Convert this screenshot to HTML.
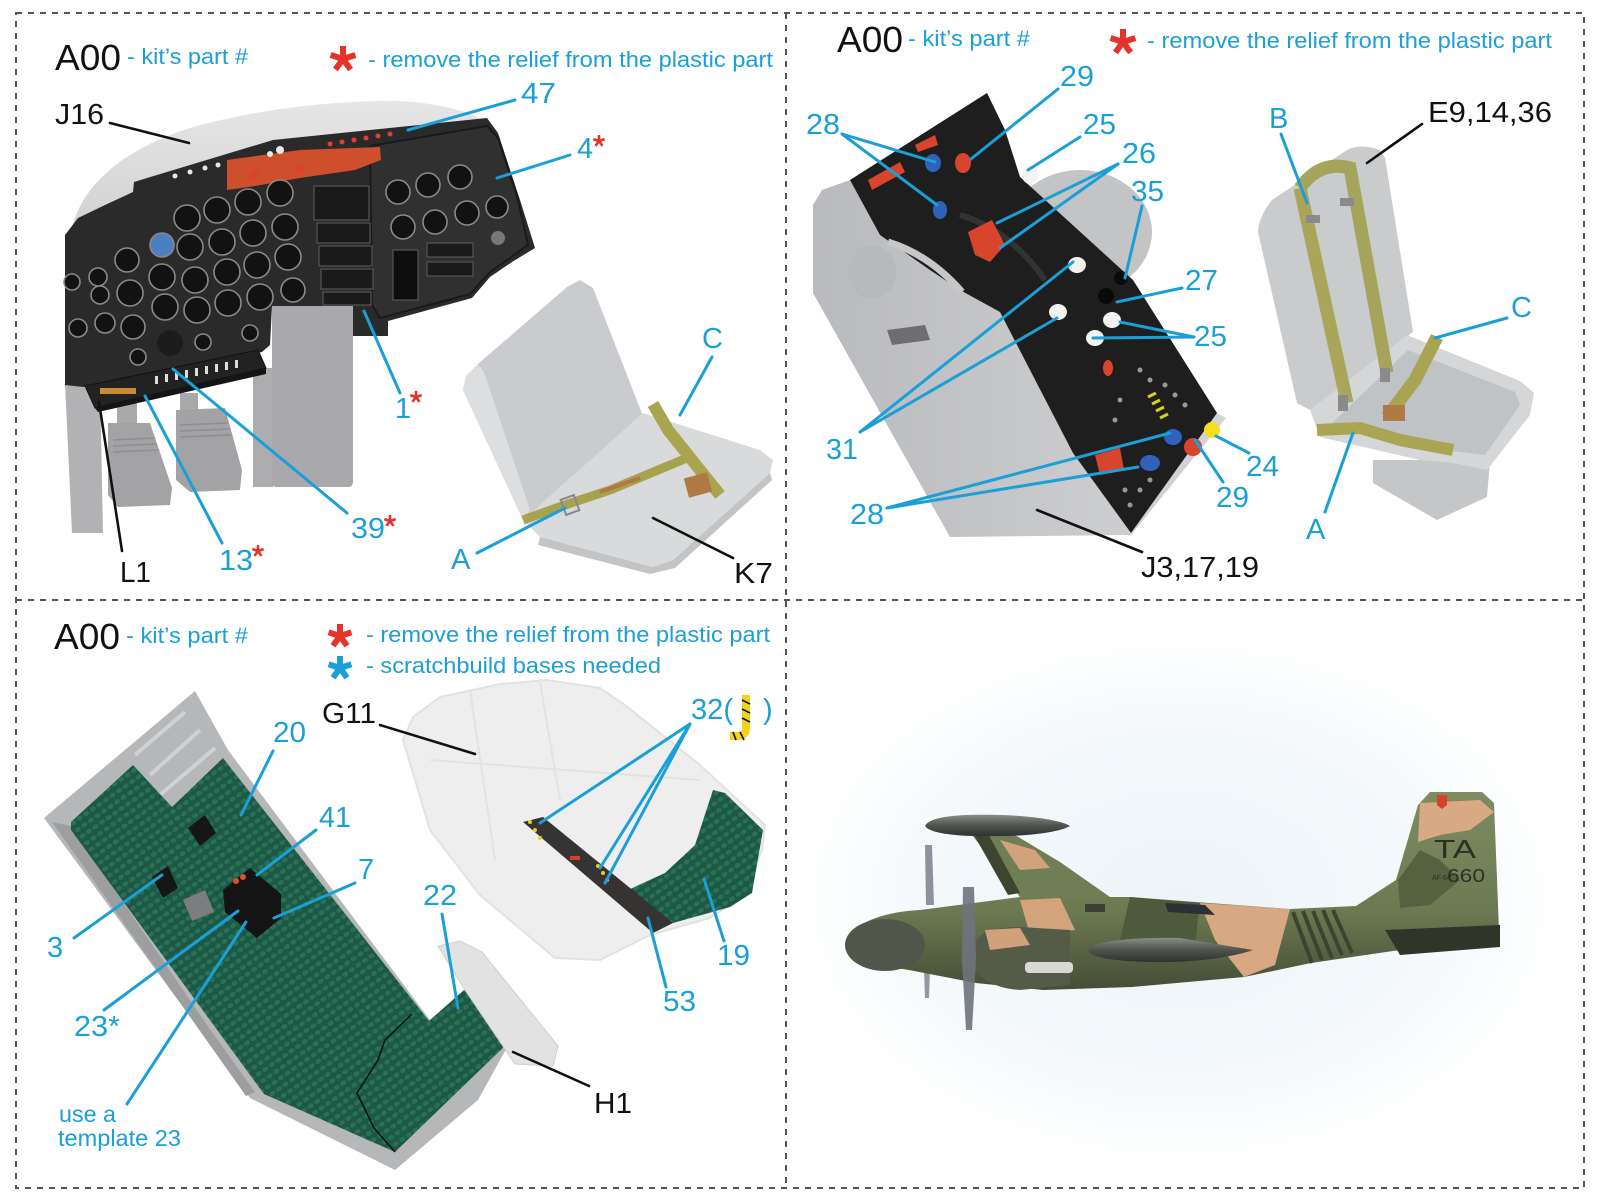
<!DOCTYPE html>
<html><head><meta charset="utf-8"><style>
html,body{margin:0;padding:0;background:#fff;}
svg{display:block;}
text{font-family:"Liberation Sans",Arial,sans-serif;}
.b{fill:#1a9fd6;}
.k{fill:#111;}
.lb{stroke:#1a9fd6;stroke-width:3;fill:none;stroke-linecap:round;}
.lk{stroke:#111;stroke-width:2.6;fill:none;stroke-linecap:round;}
.g{fill:#121212;stroke:#8a8a8a;stroke-width:1.6;}
</style></head><body>
<svg width="1600" height="1200" viewBox="0 0 1600 1200" xmlns="http://www.w3.org/2000/svg">
<defs>
<pattern id="weave" width="8" height="8" patternUnits="userSpaceOnUse" patternTransform="rotate(-35)">
<rect width="8" height="8" fill="#1d5843"/><ellipse cx="4" cy="4" rx="3.2" ry="2.3" fill="#28705a"/></pattern>
<radialGradient id="sky" cx="50%" cy="50%" r="50%"><stop offset="0" stop-color="#edf4f8"/><stop offset="0.6" stop-color="#f3f8fb"/><stop offset="1" stop-color="#ffffff"/></radialGradient>
<linearGradient id="shroud" x1="0" y1="0" x2="0" y2="1"><stop offset="0" stop-color="#e6e6e6"/><stop offset="1" stop-color="#cfcfcf"/></linearGradient>
<linearGradient id="body" x1="0" y1="0" x2="1" y2="0"><stop offset="0" stop-color="#b9babd"/><stop offset="1" stop-color="#d3d4d6"/></linearGradient>
<linearGradient id="tank" x1="0" y1="0" x2="0" y2="1"><stop offset="0" stop-color="#8a8d88"/><stop offset="0.5" stop-color="#4f524d"/><stop offset="1" stop-color="#2f322e"/></linearGradient>
<linearGradient id="fus" x1="0" y1="0" x2="0" y2="1"><stop offset="0" stop-color="#7e8c62"/><stop offset="0.6" stop-color="#6c7a52"/><stop offset="1" stop-color="#454d36"/></linearGradient>
</defs>
<rect width="1600" height="1200" fill="#fff"/>

<!-- Q4 sky -->
<ellipse cx="1180" cy="900" rx="390" ry="270" fill="url(#sky)"/>

<!-- dashed frame -->
<g stroke="#555" stroke-width="2" fill="none" stroke-dasharray="6 6">
<rect x="16" y="13" width="1568" height="1175"/>
<line x1="786" y1="13" x2="786" y2="1188"/>
<line x1="16" y1="600" x2="1584" y2="600"/>
</g>

<!-- ============ Q1 cockpit ============ -->
<path d="M70,240 C75,190 120,150 190,128 C260,108 340,100 400,101 C440,103 470,112 488,122 L470,140 L150,200 L75,245 Z" fill="url(#shroud)"/>
<polygon points="65,383 100,383 103,533 72,533" fill="#b2b2b4"/>
<rect x="117" y="398" width="20" height="32" fill="#a9a9ab"/>
<polygon points="108,423 150,423 172,488 170,505 118,507 108,495" fill="#a3a3a6"/>
<g stroke="#8f8f92" stroke-width="1.5"><line x1="113" y1="440" x2="155" y2="438"/><line x1="113" y1="446" x2="157" y2="444"/><line x1="113" y1="452" x2="159" y2="450"/></g>
<rect x="180" y="393" width="18" height="26" fill="#a9a9ab"/>
<polygon points="176,410 225,408 242,470 240,490 190,492 176,480" fill="#a3a3a6"/>
<g stroke="#8f8f92" stroke-width="1.5"><line x1="180" y1="425" x2="228" y2="423"/><line x1="180" y1="431" x2="230" y2="429"/><line x1="180" y1="437" x2="232" y2="435"/></g>
<rect x="253" y="368" width="20" height="119" fill="#adadb0"/>
<path d="M272,300 L353,300 L353,482 Q353,487 348,487 L277,487 Q272,487 272,482 Z" fill="#a8a8ad"/>
<polygon points="65,385 65,235 78,218 105,205 133,192 134,182 147,178 273,140 487,118 498,133 520,200 535,248 512,262 490,277 472,298 388,321 388,336 353,336 353,306 272,306 270,345 262,352 93,388" fill="#2a2a2b"/>
<polygon points="370,146 487,126 498,138 518,200 528,245 490,272 470,294 380,318 372,305" fill="#303031" stroke="#1a1a1a" stroke-width="2"/>
<polygon points="227,160 300,150 380,147 381,160 355,170 300,178 255,186 227,190" fill="#cf4f2c"/>
<g fill="#e8e8e8"><circle cx="175" cy="176" r="2.5"/><circle cx="190" cy="172" r="2.5"/><circle cx="205" cy="168" r="2.5"/><circle cx="218" cy="165" r="2.5"/><circle cx="270" cy="154" r="3"/><circle cx="280" cy="150" r="4"/></g>
<g fill="#e04030"><circle cx="330" cy="144" r="2.5"/><circle cx="342" cy="142" r="2.5"/><circle cx="354" cy="140" r="2.5"/><circle cx="366" cy="138" r="2.5"/><circle cx="378" cy="136" r="2.5"/><circle cx="390" cy="134" r="2.5"/><circle cx="255" cy="175" r="4"/><circle cx="300" cy="170" r="4"/></g>
<g>
<circle class="g" cx="187" cy="218" r="13"/><circle class="g" cx="217" cy="210" r="13"/><circle class="g" cx="248" cy="202" r="13"/><circle class="g" cx="280" cy="193" r="13"/>
<circle class="g" cx="190" cy="247" r="13"/><circle class="g" cx="222" cy="242" r="13"/><circle class="g" cx="253" cy="233" r="13"/><circle class="g" cx="285" cy="227" r="13"/>
<circle class="g" cx="195" cy="280" r="13"/><circle class="g" cx="227" cy="272" r="13"/><circle class="g" cx="257" cy="265" r="13"/><circle class="g" cx="288" cy="257" r="13"/>
<circle class="g" cx="162" cy="277" r="13"/><circle class="g" cx="127" cy="260" r="12"/>
<circle cx="162" cy="245" r="12" fill="#4b7fc0" stroke="#888" stroke-width="1.6"/>
<circle class="g" cx="130" cy="293" r="13"/><circle class="g" cx="165" cy="307" r="13"/><circle class="g" cx="197" cy="310" r="13"/><circle class="g" cx="228" cy="303" r="13"/><circle class="g" cx="260" cy="297" r="13"/><circle class="g" cx="293" cy="290" r="12"/>
<circle class="g" cx="72" cy="282" r="8"/><circle class="g" cx="98" cy="277" r="9"/><circle class="g" cx="100" cy="295" r="9"/><circle class="g" cx="78" cy="328" r="9"/><circle class="g" cx="105" cy="323" r="10"/><circle class="g" cx="133" cy="327" r="12"/>
<circle class="g" cx="138" cy="357" r="8"/><circle class="g" cx="203" cy="342" r="8"/><circle class="g" cx="250" cy="333" r="8"/>
<circle cx="170" cy="343" r="13" fill="#1c1c1c"/>
<circle class="g" cx="398" cy="192" r="12"/><circle class="g" cx="428" cy="185" r="12"/><circle class="g" cx="460" cy="177" r="12"/>
<circle class="g" cx="403" cy="227" r="12"/><circle class="g" cx="435" cy="222" r="12"/><circle class="g" cx="467" cy="213" r="12"/><circle class="g" cx="497" cy="207" r="11"/>
<circle cx="498" cy="238" r="7" fill="#777"/>
</g>
<g fill="#1a1a1a" stroke="#555" stroke-width="1.2">
<rect x="314" y="186" width="55" height="34"/><rect x="317" y="223" width="53" height="20"/><rect x="319" y="246" width="53" height="20"/><rect x="321" y="269" width="52" height="20"/><rect x="323" y="292" width="48" height="13"/>
<rect x="393" y="250" width="25" height="50" fill="#0e0e0e"/>
<rect x="427" y="243" width="46" height="14"/><rect x="427" y="262" width="46" height="14"/>
</g>
<polygon points="85,386 258,350 266,368 95,408" fill="#222" stroke="#111" stroke-width="1"/>
<polygon points="95,408 266,368 266,374 98,412" fill="#151515"/>
<g fill="#c98a3a"><rect x="100" y="388" width="36" height="6"/></g>
<g fill="#ddd"><rect x="155" y="376" width="3" height="8"/><rect x="165" y="374" width="3" height="8"/><rect x="175" y="372" width="3" height="8"/><rect x="185" y="370" width="3" height="8"/><rect x="195" y="368" width="3" height="8"/><rect x="205" y="366" width="3" height="8"/><rect x="215" y="364" width="3" height="8"/><rect x="225" y="362" width="3" height="8"/><rect x="235" y="360" width="3" height="8"/></g>

<!-- Q1 seat K7 -->
<polygon points="463,390 466,376 478,364 567,287 580,280 593,288 643,416 523,520" fill="#c9cbce"/>
<polygon points="463,390 466,376 478,364 484,372 530,510 523,520" fill="#dcdedf"/>
<polygon points="523,520 643,413 760,450 773,460 770,473 673,560 653,567 540,537" fill="#d8dadc"/>
<polygon points="540,537 653,567 673,560 770,473 772,480 675,568 650,574 538,545" fill="#c2c4c6"/>
<g stroke-linecap="butt" fill="none">
<path d="M523,520 L565,505 L610,490 L687,458" stroke="#a7a24e" stroke-width="9"/>
<path d="M600,492 L640,478" stroke="#b27745" stroke-width="4"/>
<path d="M653,404 L668,430 L700,470 L720,495" stroke="#aaa450" stroke-width="12"/>
<rect x="686" y="475" width="24" height="20" fill="#b07a45" transform="rotate(-15 698 485)"/>
<rect x="563" y="497" width="14" height="16" fill="none" stroke="#888" stroke-width="2" transform="rotate(-20 570 505)"/>
</g>

<!-- Q1 labels -->
<text x="55" y="70" font-size="36" class="k" textLength="66" lengthAdjust="spacingAndGlyphs">A00</text>
<text x="127" y="64" font-size="22" class="b" textLength="121" lengthAdjust="spacingAndGlyphs">- kit’s part #</text>
<text x="368" y="67" font-size="22" class="b" textLength="405" lengthAdjust="spacingAndGlyphs">- remove the relief from the plastic part</text>
<text x="55" y="124" font-size="29" class="k" textLength="49" lengthAdjust="spacingAndGlyphs">J16</text>
<line class="lk" x1="110" y1="123" x2="189" y2="143"/>
<text x="521" y="103" font-size="29" class="b" textLength="35" lengthAdjust="spacingAndGlyphs">47</text>
<line class="lb" x1="515" y1="100" x2="408" y2="130"/>
<text x="577" y="158" font-size="29" class="b">4</text>
<line class="lb" x1="570" y1="155" x2="497" y2="178"/>
<text x="395" y="418" font-size="29" class="b">1</text>
<line class="lb" x1="400" y1="393" x2="364" y2="311"/>
<text x="351" y="538" font-size="29" class="b" textLength="34" lengthAdjust="spacingAndGlyphs">39</text>
<line class="lb" x1="347" y1="513" x2="173" y2="369"/>
<text x="219" y="570" font-size="29" class="b" textLength="34" lengthAdjust="spacingAndGlyphs">13</text>
<line class="lb" x1="222" y1="543" x2="145" y2="396"/>
<text x="120" y="582" font-size="29" class="k" textLength="31" lengthAdjust="spacingAndGlyphs">L1</text>
<line class="lk" x1="122" y1="551" x2="99" y2="402"/>
<text x="702" y="348" font-size="29" class="b">C</text>
<line class="lb" x1="712" y1="357" x2="680" y2="415"/>
<text x="451" y="569" font-size="29" class="b">A</text>
<line class="lb" x1="477" y1="553" x2="565" y2="508"/>
<text x="734" y="583" font-size="29" class="k" textLength="39" lengthAdjust="spacingAndGlyphs">K7</text>
<line class="lk" x1="733" y1="558" x2="653" y2="518"/>

<!-- ============ Q2 ============ -->
<ellipse cx="1080" cy="232" rx="72" ry="62" fill="#c3c4c6"/>
<polygon points="813,205 822,190 850,180 987,93 1005,130 1020,177 1133,280 1217,413 1226,418 1131,535 950,537 813,293" fill="url(#body)"/>
<ellipse cx="872" cy="272" rx="24" ry="27" fill="#b8b9bc"/>
<polygon points="887,330 925,325 930,340 892,345" fill="#6e6e70"/>
<polygon points="850,180 987,93 1005,130 1020,177 1133,280 1217,413 1131,533 1073,453 1030,370 1000,312 960,290 930,270 880,235" fill="#1e1e1e"/>
<path d="M888,242 Q930,255 962,292" stroke="#c6c7c9" stroke-width="7" fill="none"/>
<path d="M960,215 Q1010,230 1045,280" stroke="#333" stroke-width="6" fill="none"/>
<g fill="#f2f2ee"><ellipse cx="1030" cy="175" rx="8" ry="9"/><ellipse cx="1077" cy="265" rx="9" ry="8"/><ellipse cx="1058" cy="312" rx="9" ry="8"/><ellipse cx="1112" cy="320" rx="9" ry="8"/><ellipse cx="1095" cy="338" rx="9" ry="8"/></g>
<g fill="#0a0a0a"><circle cx="1121" cy="278" r="7"/><circle cx="1106" cy="296" r="8"/></g>
<g fill="#d8442c"><ellipse cx="963" cy="163" rx="8" ry="10"/><polygon points="968,232 992,220 1005,245 990,262 975,255"/><polygon points="868,180 900,162 905,172 872,190"/><polygon points="915,145 935,135 938,145 918,152"/><ellipse cx="1193" cy="447" rx="9" ry="9"/><polygon points="1095,455 1120,448 1124,470 1100,475"/><ellipse cx="1108" cy="368" rx="5" ry="8"/></g>
<g fill="#2f62b8"><ellipse cx="933" cy="163" rx="8" ry="9"/><ellipse cx="940" cy="210" rx="7" ry="9"/><ellipse cx="1173" cy="437" rx="9" ry="8"/><ellipse cx="1150" cy="463" rx="10" ry="8"/></g>
<circle cx="1212" cy="430" r="8" fill="#f0e020"/>
<g stroke="#d8d020" stroke-width="3"><line x1="1148" y1="397" x2="1156" y2="393"/><line x1="1152" y1="404" x2="1160" y2="400"/><line x1="1156" y1="411" x2="1164" y2="407"/><line x1="1160" y1="418" x2="1168" y2="414"/></g>
<g fill="#9a9a9a"><circle cx="1140" cy="370" r="2.5"/><circle cx="1150" cy="380" r="2.5"/><circle cx="1165" cy="385" r="2.5"/><circle cx="1175" cy="395" r="2.5"/><circle cx="1185" cy="405" r="2.5"/><circle cx="1120" cy="400" r="2.5"/><circle cx="1115" cy="420" r="2.5"/><circle cx="1125" cy="490" r="2.5"/><circle cx="1130" cy="505" r="2.5"/><circle cx="1140" cy="490" r="2.5"/><circle cx="1150" cy="480" r="2.5"/></g>

<!-- Q2 seat -->
<polygon points="1373,460 1490,460 1487,497 1437,520 1373,483" fill="#c4c6c8"/>
<path d="M1258,232 Q1258,218 1272,200 L1347,150 Q1360,143 1380,150 L1385,158 L1413,332 L1310,410 L1297,403 Z" fill="#c9cbcd"/>
<polygon points="1310,410 1407,335 1520,381 1534,393 1530,415 1487,470 1453,463 1420,460 1320,437" fill="#d4d6d8"/>
<polygon points="1330,425 1408,350 1515,392 1520,405 1485,455 1420,447" fill="#c0c3c6"/>
<g fill="none" stroke-linecap="butt">
<path d="M1300,188 Q1320,160 1350,168 L1387,373" stroke="#a4a45a" stroke-width="13"/>
<path d="M1300,188 L1347,403" stroke="#a9a65a" stroke-width="13"/>
<path d="M1437,337 L1415,380 L1387,417" stroke="#aaa452" stroke-width="13"/>
<path d="M1317,430 L1360,428 L1400,440 L1453,450" stroke="#a9a552" stroke-width="12"/>
</g>
<g fill="#8a8a8a"><rect x="1306" y="215" width="14" height="8"/><rect x="1340" y="198" width="14" height="8"/><rect x="1338" y="395" width="10" height="16"/><rect x="1380" y="368" width="10" height="14"/></g>
<rect x="1383" y="405" width="22" height="16" fill="#b07a45"/>

<!-- Q2 labels -->
<text x="837" y="52" font-size="36" class="k" textLength="66" lengthAdjust="spacingAndGlyphs">A00</text>
<text x="908" y="46" font-size="22" class="b" textLength="122" lengthAdjust="spacingAndGlyphs">- kit’s part #</text>
<text x="1147" y="48" font-size="22" class="b" textLength="405" lengthAdjust="spacingAndGlyphs">- remove the relief from the plastic part</text>
<text x="1060" y="86" font-size="29" class="b" textLength="34" lengthAdjust="spacingAndGlyphs">29</text>
<line class="lb" x1="1058" y1="89" x2="971" y2="159"/>
<text x="806" y="134" font-size="29" class="b" textLength="34" lengthAdjust="spacingAndGlyphs">28</text>
<line class="lb" x1="842" y1="134" x2="935" y2="162"/><line class="lb" x1="842" y1="134" x2="937" y2="205"/>
<text x="1083" y="134" font-size="29" class="b" textLength="33" lengthAdjust="spacingAndGlyphs">25</text>
<line class="lb" x1="1080" y1="137" x2="1028" y2="170"/>
<text x="1122" y="163" font-size="29" class="b" textLength="34" lengthAdjust="spacingAndGlyphs">26</text>
<line class="lb" x1="1118" y1="164" x2="997" y2="223"/><line class="lb" x1="1118" y1="164" x2="1000" y2="248"/>
<text x="1131" y="201" font-size="29" class="b" textLength="33" lengthAdjust="spacingAndGlyphs">35</text>
<line class="lb" x1="1142" y1="206" x2="1125" y2="278"/>
<text x="1185" y="290" font-size="29" class="b" textLength="33" lengthAdjust="spacingAndGlyphs">27</text>
<line class="lb" x1="1182" y1="288" x2="1117" y2="302"/>
<text x="1194" y="346" font-size="29" class="b" textLength="33" lengthAdjust="spacingAndGlyphs">25</text>
<line class="lb" x1="1194" y1="337" x2="1120" y2="322"/><line class="lb" x1="1194" y1="337" x2="1093" y2="338"/>
<text x="826" y="459" font-size="29" class="b" textLength="32" lengthAdjust="spacingAndGlyphs">31</text>
<line class="lb" x1="860" y1="432" x2="1073" y2="262"/><line class="lb" x1="860" y1="432" x2="1057" y2="318"/>
<text x="1246" y="476" font-size="29" class="b" textLength="33" lengthAdjust="spacingAndGlyphs">24</text>
<line class="lb" x1="1249" y1="453" x2="1216" y2="436"/>
<text x="1216" y="507" font-size="29" class="b" textLength="33" lengthAdjust="spacingAndGlyphs">29</text>
<line class="lb" x1="1223" y1="482" x2="1195" y2="440"/>
<text x="850" y="524" font-size="29" class="b" textLength="34" lengthAdjust="spacingAndGlyphs">28</text>
<line class="lb" x1="887" y1="508" x2="1170" y2="433"/><line class="lb" x1="887" y1="508" x2="1138" y2="467"/>
<text x="1141" y="577" font-size="29" class="k" textLength="118" lengthAdjust="spacingAndGlyphs">J3,17,19</text>
<line class="lk" x1="1142" y1="552" x2="1037" y2="510"/>
<text x="1269" y="128" font-size="29" class="b">B</text>
<line class="lb" x1="1281" y1="134" x2="1307" y2="203"/>
<text x="1428" y="122" font-size="29" class="k" textLength="124" lengthAdjust="spacingAndGlyphs">E9,14,36</text>
<line class="lk" x1="1422" y1="124" x2="1367" y2="163"/>
<text x="1511" y="317" font-size="29" class="b">C</text>
<line class="lb" x1="1507" y1="318" x2="1435" y2="338"/>
<text x="1306" y="539" font-size="29" class="b">A</text>
<line class="lb" x1="1325" y1="512" x2="1353" y2="433"/>

<!-- ============ Q3 ============ -->
<polygon points="44,818 195,691 228,750 430,1020 465,990 510,1042 478,1100 395,1170 250,1098" fill="#b6b7b9"/>
<polygon points="52,822 71,826 209,1028 255,1092 246,1096" fill="#9d9ea0"/>
<g stroke="#d0d1d3" stroke-width="4"><line x1="135" y1="755" x2="185" y2="712"/><line x1="150" y1="775" x2="200" y2="730"/><line x1="160" y1="795" x2="215" y2="748"/></g>
<polygon points="71,822 133,765 172,807 223,758 429,1021 464,990 509,1042 395,1152 264,1094 71,830" fill="url(#weave)"/>
<path d="M412,1014 L385,1040 L378,1060 L357,1093 L374,1128 L395,1152" stroke="#111" stroke-width="1.5" fill="none"/>
<polygon points="438,946 460,941 482,952 558,1046 553,1066 515,1064 465,990" fill="#e2e2e2" stroke="#cfcfcf" stroke-width="1"/>
<polygon points="223,890 250,868 281,894 281,918 257,938 225,912" fill="#141414"/>
<circle cx="236" cy="881" r="3" fill="#e05030"/><circle cx="243" cy="877" r="3" fill="#e05030"/>
<polygon points="188,828 205,815 216,833 200,846" fill="#161616"/>
<polygon points="152,877 168,866 178,888 163,898" fill="#161616"/>
<polygon points="183,900 205,890 214,912 192,921" fill="#7b7d80"/>
<polygon points="403,740 413,717 440,697 500,684 547,680 600,688 625,705 700,765 765,825 762,850 745,895 710,918 650,935 600,960 555,958 480,895 430,830" fill="#eeeeee" stroke="#e2e2e2" stroke-width="2"/>
<g stroke="#e2e2e2" stroke-width="2" fill="none"><path d="M470,690 L495,860"/><path d="M540,682 L560,800"/><path d="M430,760 L700,780"/></g>
<polygon points="628,890 665,873 695,845 713,790 725,793 763,830 752,893 730,907 673,923" fill="url(#weave)"/>
<polygon points="523,822 543,817 673,923 653,933" fill="#363432"/>
<g fill="#e8d020"><circle cx="530" cy="822" r="2"/><circle cx="535" cy="830" r="2"/><circle cx="540" cy="838" r="2"/><circle cx="598" cy="866" r="2"/><circle cx="603" cy="873" r="2"/><circle cx="607" cy="880" r="2"/></g>
<rect x="570" y="856" width="10" height="4" fill="#d8402a"/>

<!-- Q3 labels -->
<text x="54" y="649" font-size="36" class="k" textLength="66" lengthAdjust="spacingAndGlyphs">A00</text>
<text x="126" y="643" font-size="22" class="b" textLength="122" lengthAdjust="spacingAndGlyphs">- kit’s part #</text>
<text x="366" y="642" font-size="22" class="b" textLength="404" lengthAdjust="spacingAndGlyphs">- remove the relief from the plastic part</text>
<text x="366" y="673" font-size="22" class="b" textLength="295" lengthAdjust="spacingAndGlyphs">- scratchbuild bases needed</text>
<text x="322" y="723" font-size="29" class="k" textLength="54" lengthAdjust="spacingAndGlyphs">G11</text>
<line class="lk" x1="380" y1="725" x2="475" y2="754"/>
<text x="691" y="719" font-size="29" class="b" textLength="42" lengthAdjust="spacingAndGlyphs">32(</text>
<text x="763" y="719" font-size="29" class="b">)</text>
<path d="M746,695 L746,728 Q746,736 738,736 L730,736" stroke="#f2d21c" stroke-width="8" fill="none"/>
<g stroke="#111" stroke-width="1.6"><line x1="742" y1="700" x2="750" y2="704"/><line x1="742" y1="709" x2="750" y2="713"/><line x1="742" y1="718" x2="750" y2="722"/><line x1="740" y1="732" x2="744" y2="740"/><line x1="733" y1="732" x2="736" y2="740"/></g>
<line class="lb" x1="690" y1="724" x2="540" y2="823"/><line class="lb" x1="690" y1="724" x2="600" y2="868"/><line class="lb" x1="690" y1="724" x2="605" y2="883"/>
<text x="273" y="742" font-size="29" class="b" textLength="33" lengthAdjust="spacingAndGlyphs">20</text>
<line class="lb" x1="273" y1="751" x2="241" y2="815"/>
<text x="319" y="827" font-size="29" class="b" textLength="32" lengthAdjust="spacingAndGlyphs">41</text>
<line class="lb" x1="316" y1="830" x2="257" y2="875"/>
<text x="358" y="879" font-size="29" class="b">7</text>
<line class="lb" x1="355" y1="883" x2="274" y2="918"/>
<text x="47" y="957" font-size="29" class="b">3</text>
<line class="lb" x1="74" y1="938" x2="162" y2="875"/>
<text x="423" y="905" font-size="29" class="b" textLength="34" lengthAdjust="spacingAndGlyphs">22</text>
<line class="lb" x1="442" y1="914" x2="458" y2="1008"/>
<text x="74" y="1036" font-size="29" class="b" textLength="46" lengthAdjust="spacingAndGlyphs">23*</text>
<line class="lb" x1="104" y1="1010" x2="238" y2="911"/>
<text x="59" y="1122" font-size="23" class="b" textLength="57" lengthAdjust="spacingAndGlyphs">use a</text>
<text x="58" y="1146" font-size="23" class="b" textLength="123" lengthAdjust="spacingAndGlyphs">template 23</text>
<line class="lb" x1="127" y1="1104" x2="246" y2="922"/>
<text x="594" y="1113" font-size="29" class="k" textLength="38" lengthAdjust="spacingAndGlyphs">H1</text>
<line class="lk" x1="589" y1="1086" x2="513" y2="1052"/>
<text x="663" y="1011" font-size="29" class="b" textLength="33" lengthAdjust="spacingAndGlyphs">53</text>
<line class="lb" x1="666" y1="987" x2="648" y2="918"/>
<text x="717" y="965" font-size="29" class="b" textLength="33" lengthAdjust="spacingAndGlyphs">19</text>
<line class="lb" x1="724" y1="941" x2="704" y2="879"/>

<!-- asterisks -->
<g stroke="#e5322a" stroke-width="6" stroke-linecap="butt">
<g transform="translate(343,59)"><line x1="0" y1="0" x2="0" y2="-13"/><line x1="0" y1="0" x2="12.4" y2="-4"/><line x1="0" y1="0" x2="7.6" y2="10.5"/><line x1="0" y1="0" x2="-7.6" y2="10.5"/><line x1="0" y1="0" x2="-12.4" y2="-4"/></g>
<g transform="translate(1123,42)"><line x1="0" y1="0" x2="0" y2="-13"/><line x1="0" y1="0" x2="12.4" y2="-4"/><line x1="0" y1="0" x2="7.6" y2="10.5"/><line x1="0" y1="0" x2="-7.6" y2="10.5"/><line x1="0" y1="0" x2="-12.4" y2="-4"/></g>
<g transform="translate(340,636)"><line x1="0" y1="0" x2="0" y2="-12"/><line x1="0" y1="0" x2="11.4" y2="-3.7"/><line x1="0" y1="0" x2="7" y2="9.7"/><line x1="0" y1="0" x2="-7" y2="9.7"/><line x1="0" y1="0" x2="-11.4" y2="-3.7"/></g>
</g>
<g stroke="#1a9fd6" stroke-width="6"><g transform="translate(340,668)"><line x1="0" y1="0" x2="0" y2="-12"/><line x1="0" y1="0" x2="11.4" y2="-3.7"/><line x1="0" y1="0" x2="7" y2="9.7"/><line x1="0" y1="0" x2="-7" y2="9.7"/><line x1="0" y1="0" x2="-11.4" y2="-3.7"/></g></g>
<g stroke="#e5322a" stroke-width="2.6">
<g transform="translate(599,141)"><line x1="0" y1="0" x2="0" y2="-6"/><line x1="0" y1="0" x2="5.7" y2="-1.9"/><line x1="0" y1="0" x2="3.5" y2="4.9"/><line x1="0" y1="0" x2="-3.5" y2="4.9"/><line x1="0" y1="0" x2="-5.7" y2="-1.9"/></g>
<g transform="translate(416,397)"><line x1="0" y1="0" x2="0" y2="-6"/><line x1="0" y1="0" x2="5.7" y2="-1.9"/><line x1="0" y1="0" x2="3.5" y2="4.9"/><line x1="0" y1="0" x2="-3.5" y2="4.9"/><line x1="0" y1="0" x2="-5.7" y2="-1.9"/></g>
<g transform="translate(390,521)"><line x1="0" y1="0" x2="0" y2="-6"/><line x1="0" y1="0" x2="5.7" y2="-1.9"/><line x1="0" y1="0" x2="3.5" y2="4.9"/><line x1="0" y1="0" x2="-3.5" y2="4.9"/><line x1="0" y1="0" x2="-5.7" y2="-1.9"/></g>
<g transform="translate(258,551)"><line x1="0" y1="0" x2="0" y2="-6"/><line x1="0" y1="0" x2="5.7" y2="-1.9"/><line x1="0" y1="0" x2="3.5" y2="4.9"/><line x1="0" y1="0" x2="-3.5" y2="4.9"/><line x1="0" y1="0" x2="-5.7" y2="-1.9"/></g>
</g>

<!-- ============ Q4 aircraft ============ -->
<g>
<path d="M925,845 L932,845 L934,905 L926,905 Z" fill="#7c808a" opacity="0.85"/>
<path d="M924,970 L930,970 L929,998 L925,998 Z" fill="#7c808a" opacity="0.8"/>
<polygon points="965,826 1000,826 1060,862 1110,897 1020,897 990,858" fill="#6f7e55"/>
<polygon points="1000,840 1035,850 1050,868 1020,870" fill="#d2a27c"/>
<polygon points="970,828 985,828 1020,893 1008,895" fill="#3d4530"/>
<path d="M925,826 C930,816 960,814 1000,815 C1040,816 1065,822 1070,826 C1060,832 1030,836 1000,836 C960,837 930,834 925,826 Z" fill="url(#tank)"/>
<path d="M847,943 C850,925 880,912 920,910 L1020,897 L1130,897 L1290,909 L1356,906 L1396,880 L1418,805 L1430,792 L1482,792 L1494,803 L1499,930 L1490,943 L1400,950 L1311,963 L1244,977 L1132,987 L1043,990 L976,983 L909,970 L865,963 C852,958 846,950 847,943 Z" fill="url(#fus)"/>
<polygon points="1420,803 1480,800 1494,812 1470,830 1440,835 1418,842" fill="#d8a983"/>
<polygon points="1398,880 1420,850 1440,860 1460,880 1430,905 1400,908" fill="#55613f"/>
<polygon points="1200,903 1290,909 1275,965 1244,977 1215,940" fill="#d8a882"/>
<polygon points="1130,897 1200,903 1195,945 1120,940" fill="#4e5a3c"/>
<polygon points="1020,900 1060,898 1075,930 1030,935" fill="#d3a37c"/>
<g stroke="#39452f" stroke-width="4"><line x1="1293" y1="912" x2="1312" y2="963"/><line x1="1303" y1="911" x2="1322" y2="960"/><line x1="1313" y1="911" x2="1332" y2="958"/><line x1="1323" y1="910" x2="1342" y2="955"/><line x1="1333" y1="910" x2="1352" y2="953"/></g>
<polygon points="1385,930 1500,925 1500,947 1400,955" fill="#2f3528"/>
<ellipse cx="885" cy="945" rx="40" ry="26" fill="#50564a"/>
<path d="M972,955 C972,935 990,927 1020,927 L1070,930 L1070,985 L1020,990 C990,988 972,975 972,955 Z" fill="#545c48"/>
<polygon points="985,930 1020,928 1030,945 990,950" fill="#d1a17b"/>
<path d="M1088,950 C1095,940 1140,937 1180,938 L1253,950 C1230,958 1190,963 1150,962 C1110,961 1090,957 1088,950 Z" fill="url(#tank)"/>
<rect x="1025" y="962" width="48" height="11" rx="4" fill="#d8d8d8"/>
<polygon points="1165,903 1205,905 1215,915 1168,912" fill="#2a3038"/>
<path d="M963,887 L974,887 L976,960 L972,1030 L966,1030 L962,960 Z" fill="#6f737c" opacity="0.9"/>
<rect x="1085" y="904" width="20" height="8" fill="#3b3f36"/>
<text x="1434" y="858" font-size="26" fill="#2b3124" textLength="42" lengthAdjust="spacingAndGlyphs">TA</text>
<text x="1447" y="882" font-size="18" fill="#2b3124" textLength="38" lengthAdjust="spacingAndGlyphs">660</text>
<text x="1432" y="880" font-size="7" fill="#2b3124">AF 64</text>
<polygon points="1437,795 1447,795 1447,805 1442,809 1437,805" fill="#d8402a"/>
</g>
</svg>
</body></html>
